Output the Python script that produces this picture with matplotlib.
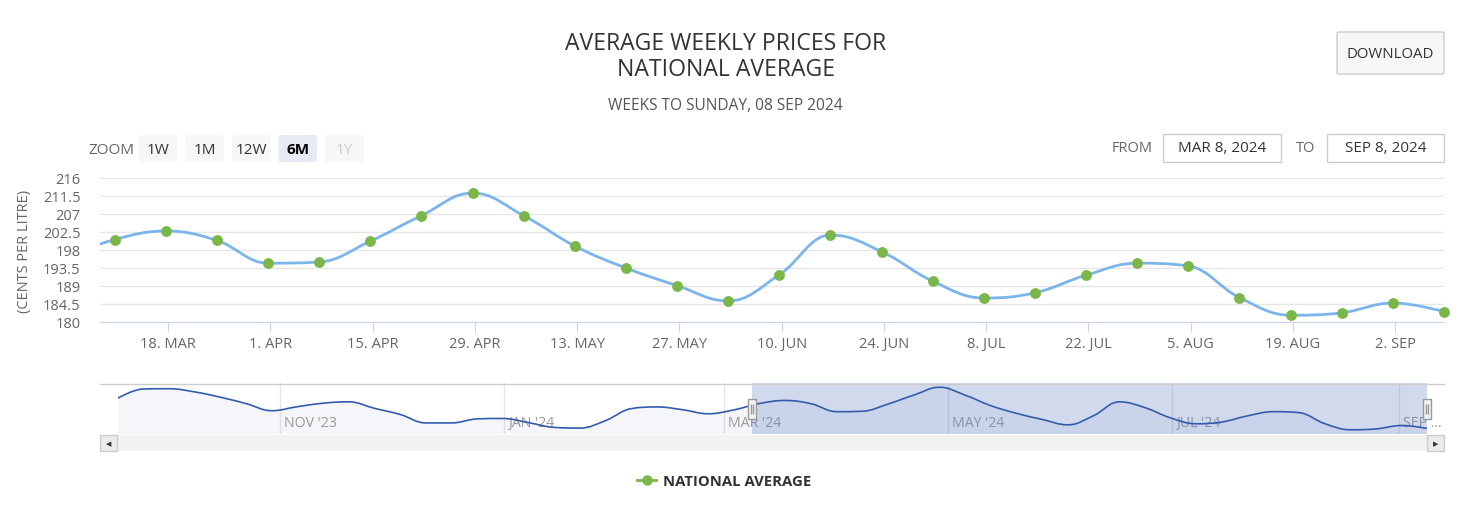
import matplotlib
matplotlib.use("Agg")
import matplotlib.pyplot as plt
import matplotlib.dates as mdates
import matplotlib.transforms as mtransforms
from matplotlib.path import Path
from matplotlib.patches import PathPatch, Rectangle, FancyBboxPatch
from matplotlib.lines import Line2D
import numpy as np
import pandas as pd

plt.rcParams['font.family'] = ['Open Sans', 'DejaVu Sans']

# weekly national average (cents per litre), weeks ending Sunday
weeks = pd.date_range("2023-09-17", "2024-09-08", freq="W-SUN")
prices = np.array([
    204.4, 211.0, 211.2, 208.9, 205.1, 200.5, 195.4, 198.3, 200.8, 201.8,
    197.1, 192.7, 186.6, 186.6, 189.5, 189.8, 186.8, 183.4, 182.9, 188.3,
    196.9, 198.1, 196.1, 193.2, 196.0,
    200.6, 202.75, 200.4, 194.7, 195.0, 200.2, 206.6, 212.25, 206.6, 199.0,
    193.5, 189.1, 185.25, 191.8, 201.75, 197.6, 190.2, 186.0, 187.3, 191.7,
    194.7, 194.0, 186.1, 181.7, 182.3, 184.75, 182.6,
])

view_from = pd.Timestamp("2024-03-08")
view_to = pd.Timestamp("2024-09-08")
x_ticks = pd.date_range("2024-03-18", "2024-09-02", freq="14D")
y_ticks = [180, 184.5, 189, 193.5, 198, 202.5, 207, 211.5, 216]
nav_ticks = pd.to_datetime(["2023-11-01", "2024-01-01", "2024-03-01",
                            "2024-05-01", "2024-07-01", "2024-09-01"])
nav_labels = ["NOV '23", "JAN '24", "MAR '24", "MAY '24", "JUL '24", "SEP ..."]
zoom_buttons = ["1W", "1M", "12W", "6M", "1Y"]
selected_button = "6M"

LINE = '#7cb5ec'
GREEN = '#7ab648'
NAVLINE = '#335cad'
SHIFT = 0.67  # points sit a little after midnight of the week's Sunday

W, H = 1466, 510


def box(l, t, r, b):
    return [l / W, 1 - b / H, (r - l) / W, (b - t) / H]


def fx(px):
    return px / W


def fy(py):
    return 1 - py / H


def hc_spline(x, y, smoothing=1.5):
    # same control points as a highcharts spline
    n = len(x)
    den = smoothing + 1
    lc = [(x[i], y[i]) for i in range(n)]
    rc = [(x[i], y[i]) for i in range(n)]
    for i in range(1, n - 1):
        lx, ly, px_, py_, nx_, ny_ = x[i-1], y[i-1], x[i], y[i], x[i+1], y[i+1]
        lcx = (smoothing * px_ + lx) / den
        lcy = (smoothing * py_ + ly) / den
        rcx = (smoothing * px_ + nx_) / den
        rcy = (smoothing * py_ + ny_) / den
        corr = ((rcy - lcy) * (rcx - px_)) / (rcx - lcx) + py_ - rcy
        lcy += corr
        rcy += corr
        if lcy > max(ly, py_):
            lcy = max(ly, py_); rcy = 2 * py_ - lcy
        elif lcy < min(ly, py_):
            lcy = min(ly, py_); rcy = 2 * py_ - lcy
        if rcy > max(ny_, py_):
            rcy = max(ny_, py_); lcy = 2 * py_ - rcy
        elif rcy < min(ny_, py_):
            rcy = min(ny_, py_); lcy = 2 * py_ - rcy
        lc[i] = (lcx, lcy)
        rc[i] = (rcx, rcy)
    verts = [(x[0], y[0])]
    codes = [Path.MOVETO]
    for i in range(1, n):
        verts += [rc[i-1], lc[i], (x[i], y[i])]
        codes += [Path.CURVE4] * 3
    return verts, codes


fig = plt.figure(figsize=(W / 100, H / 100), dpi=100)

xnum = mdates.date2num(weeks) + SHIFT
x0 = mdates.date2num(view_from) + SHIFT
x1 = mdates.date2num(view_to) + SHIFT

# ---- main chart
ax = fig.add_axes(box(100, 179, 1444, 323))
part = weeks >= view_from - pd.Timedelta(days=7)
v, c = hc_spline(xnum[part], prices[part])
ax.add_patch(PathPatch(Path(v, c), facecolor='none', edgecolor=LINE, lw=2, zorder=3))
shown = weeks >= view_from
ax.plot(xnum[shown], prices[shown], 'o', ms=7.8, color=GREEN, mec='none',
        clip_on=False, zorder=4)
ax.set_xlim(x0, x1)
ax.set_ylim(180, 216)
ax.set_yticks(y_ticks)
ax.set_yticklabels([f"{t:g}" for t in y_ticks])
ax.set_xticks(mdates.date2num(x_ticks))
ax.set_xticklabels([f"{d.day}. {d.strftime('%b').upper()}" for d in x_ticks])
ax.grid(axis='y', color='#e6e6e6', lw=1)
ax.set_axisbelow(True)
for s in ['top', 'right', 'left']:
    ax.spines[s].set_visible(False)
ax.spines['bottom'].set_color('#ccd6eb')
ax.tick_params(axis='y', length=0, pad=14, labelsize=10.5, labelcolor='#666666')
ax.tick_params(axis='x', length=7, color='#ccd6eb', pad=3, labelsize=10.5,
               labelcolor='#666666')
ax.set_ylabel("(CENTS PER LITRE)", fontsize=10.5, color='#666666', labelpad=8)

# ---- navigator
nav = fig.add_axes(box(117.7, 384, 1427.4, 435))
nv, nc = hc_spline(xnum, prices)
rng = prices.max() - prices.min()
ylo, yhi = prices.min() - 0.1 * rng, prices.max() + 0.1 * rng
area = Path(nv + [(xnum[-1], ylo), (xnum[0], ylo), (xnum[0], ylo)],
            nc + [Path.LINETO, Path.LINETO, Path.CLOSEPOLY])
nav.add_patch(PathPatch(area, facecolor=NAVLINE, alpha=0.05, lw=0, zorder=1))
nav.add_patch(PathPatch(Path(nv, nc), facecolor='none', edgecolor=NAVLINE, lw=1.2, zorder=4))
nav.axvspan(x0, x1, color='#6685c2', alpha=0.3, lw=0, zorder=3)
nav.set_xlim(xnum[0], xnum[-1])
nav.set_ylim(ylo, yhi)
nav.set_xticks(mdates.date2num(nav_ticks))
nav.set_yticks([])
nav.tick_params(axis='x', length=0, labelbottom=False)
nav.grid(axis='x', color='#e6e6e6', lw=1)
nav.set_axisbelow(True)
for s in nav.spines.values():
    s.set_visible(False)
off = mtransforms.offset_copy(nav.get_xaxis_transform(), fig=fig, x=4, y=0, units='dots')
for t, lab in zip(mdates.date2num(nav_ticks), nav_labels):
    nav.text(t, 0.22, lab, transform=off, fontsize=10.2, color='#999999',
             va='center', ha='left', zorder=2, clip_on=False)

# handles
hpath = Path([(-0.22, -0.5), (0.22, -0.5), (0.22, 0.5), (-0.22, 0.5), (-0.22, -0.5),
              (-0.06, -0.25), (-0.06, 0.25), (0.06, -0.25), (0.06, 0.25)],
             [Path.MOVETO, Path.LINETO, Path.LINETO, Path.LINETO, Path.CLOSEPOLY,
              Path.MOVETO, Path.LINETO, Path.MOVETO, Path.LINETO])
nav.plot([x0, x1], [(ylo + yhi) / 2] * 2, ls='none', marker=hpath, ms=14,
         mfc='#f2f2f2', mec='#999999', mew=1, clip_on=False, zorder=6)

fig.add_artist(Line2D([fx(100), fx(1444)], [fy(384.5)] * 2, color='#cccccc', lw=1))

# ---- scrollbar
fig.add_artist(Rectangle((fx(100), fy(452)), fx(1344), 16 / H, facecolor='#f2f2f2',
                         edgecolor='none'))
sb = fig.add_axes(box(117.7, 436, 1427.4, 452))
sb.set_xlim(xnum[0], xnum[-1])
sb.set_ylim(0, 1)
sb.axvspan(x0, x1, color='#cccccc', lw=0)
sb.text((x0 + x1) / 2, 0.5, "III", fontsize=6.5, color='#333333', ha='center', va='center',
        family='DejaVu Sans')
sb.axis('off')
for l, r, glyph in [(100, 117, '◀'), (1427, 1444, '▶')]:
    fig.add_artist(Rectangle((fx(l), fy(452)), fx(r - l), 16 / H, facecolor='#ebebeb',
                             edgecolor='#cccccc', lw=1))
    fig.text(fx((l + r) / 2), fy(444), glyph, fontsize=5, color='#333333',
             ha='center', va='center', family='DejaVu Sans')

# ---- titles
fig.text(fx(726), fy(43.5), "AVERAGE WEEKLY PRICES FOR", fontsize=16.6, color='#333333',
         ha='center', va='center')
fig.text(fx(726), fy(69.5), "NATIONAL AVERAGE", fontsize=16.6, color='#333333',
         ha='center', va='center')
fig.text(fx(725), fy(106), "WEEKS TO SUNDAY, 08 SEP 2024", fontsize=11.2, color='#555555',
         ha='center', va='center')

# ---- range selector
fig.text(fx(88), fy(150), "ZOOM", fontsize=11, color='#666666', ha='left', va='center')
for i, lab in enumerate(zoom_buttons):
    l = 139 + i * 46.5
    sel_b = lab == selected_button
    face = '#e6ebf5' if sel_b else '#f7f7f7'
    fig.add_artist(FancyBboxPatch((fx(l), fy(163)), fx(38.5), 27 / H,
                                  boxstyle='round,pad=0,rounding_size=0.002',
                                  facecolor=face, edgecolor='none'))
    col = '#000000' if sel_b else ('#cccccc' if lab == '1Y' else '#333333')
    fig.text(fx(l + 19.25), fy(150), lab, fontsize=11, color=col, ha='center', va='center',
             fontweight='bold' if sel_b else 'normal')

fig.text(fx(1132.5), fy(149), "FROM", fontsize=10.5, color='#666666', ha='center', va='center')
fig.text(fx(1306), fy(149), "TO", fontsize=10.5, color='#666666', ha='center', va='center')
for l, r, lab in [(1163, 1281, "MAR 8, 2024"), (1327, 1444, "SEP 8, 2024")]:
    fig.add_artist(Rectangle((fx(l), fy(163)), fx(r - l), 28 / H, facecolor='white',
                             edgecolor='#cccccc', lw=1))
    fig.text(fx((l + r) / 2), fy(149), lab, fontsize=11, color='#333333',
             ha='center', va='center')

# ---- download button
fig.add_artist(FancyBboxPatch((fx(1337), fy(75)), fx(107), 42 / H,
                              boxstyle='round,pad=0,rounding_size=0.002',
                              facecolor='#f7f7f7', edgecolor='#cccccc', lw=1))
fig.text(fx(1390.5), fy(54), "DOWNLOAD", fontsize=10.8, color='#333333', ha='center', va='center')

# ---- legend
fig.add_artist(Line2D([fx(637), fx(656)], [fy(481)] * 2, color=GREEN, lw=2))
fig.add_artist(Line2D([fx(646.5)], [fy(481)], marker='o', ms=7.5, color=GREEN, mec='none'))
fig.text(fx(663), fy(482), "NATIONAL AVERAGE", fontsize=10.7, color='#333333',
         fontweight='bold', ha='left', va='center')

fig.savefig("out.png", dpi=100, facecolor='white')
